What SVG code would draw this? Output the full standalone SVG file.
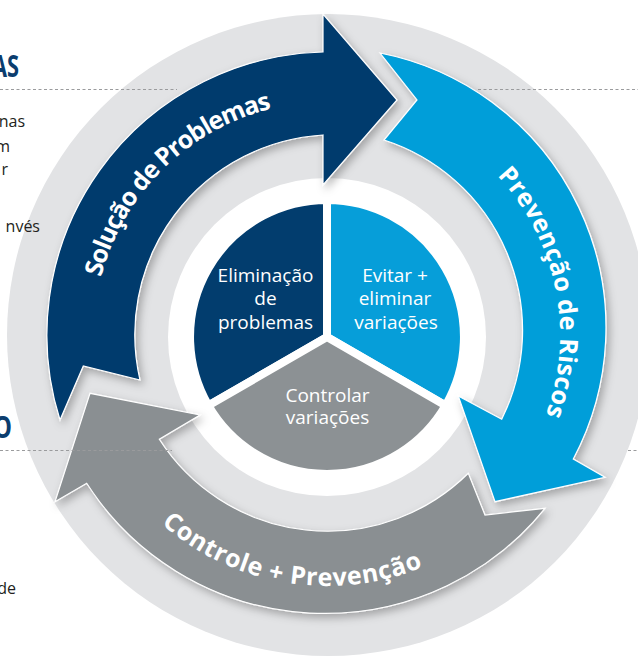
<svg xmlns="http://www.w3.org/2000/svg" width="638" height="657" viewBox="0 0 638 657">
<style>
.body{font-family:"Open Sans","Liberation Sans",sans-serif;font-size:16px;fill:#231f20;text-anchor:end}
.head{font-family:"Open Sans","Liberation Sans",sans-serif;font-size:30px;font-weight:700;fill:#0b3d6e}
.dash{stroke:#9a9b9d;stroke-width:1;stroke-dasharray:3 2.5;fill:none}
.arrow{stroke:#fff;stroke-width:1.2;stroke-linejoin:miter;filter:url(#shadow)}
.atext{font-family:"Open Sans","Liberation Sans",sans-serif;font-size:25px;font-weight:700;fill:#fff}
.ptext{font-family:"Open Sans","Liberation Sans",sans-serif;font-size:19px;fill:#fff;text-anchor:middle}
.sector{stroke:#fff;stroke-width:8;stroke-linejoin:miter}
</style>
<defs>
<filter id="shadow" x="-20%" y="-20%" width="140%" height="140%">
<feDropShadow dx="3" dy="4" stdDeviation="4" flood-color="#000" flood-opacity="0.28"/>
</filter>
<path id="tpNavy" d="M101.6,394.1 A233,233 0 0 1 388.5,110.2"/>
<path id="tpBlue" d="M400.9,114 A233,233 0 0 1 481.4,509.5"/>
<path id="tpGray" d="M92,423.3 A251,251 0 0 0 520.9,494.3"/>
</defs>
<rect width="638" height="657" fill="#fff"/>

<g id="ring">
<circle cx="328" cy="335" r="321" fill="#e2e3e5"/>
<circle cx="327" cy="337" r="159" fill="#fff"/>
</g>

<g id="guides">
<line class="dash" x1="0" y1="89.5" x2="177" y2="89.5"/>
<line class="dash" x1="478" y1="89.5" x2="638" y2="89.5"/>
<line class="dash" x1="628" y1="450.5" x2="638" y2="450.5"/>
</g>

<g id="node-eliminacao">
<path class="sector" fill="#023d6e" d="M327,337 L208.4,405.5 A137,137 0 0 1 327,200 Z"/>
<text class="ptext" x="265.5" y="281.5">Eliminação</text>
<text class="ptext" x="265.5" y="305">de</text>
<text class="ptext" x="265.5" y="328.5">problemas</text>
</g>
<g id="node-evitar">
<path class="sector" fill="#069ed9" d="M327,337 L327,200 A137,137 0 0 1 445.6,405.5 Z"/>
<text class="ptext" x="395" y="281.5">Evitar +</text>
<text class="ptext" x="395" y="305">eliminar</text>
<text class="ptext" x="396" y="328.5">variações</text>
</g>
<g id="node-controlar">
<path class="sector" fill="#8c9194" d="M327,337 L445.6,405.5 A137,137 0 0 1 208.4,405.5 Z"/>
<text class="ptext" x="327.5" y="401.5" fill="#f2f2f2">Controlar</text>
<text class="ptext" x="327.5" y="424" fill="#f2f2f2">variações</text>
</g>

<g id="connectors">
<g id="arrow-controle">
<path class="arrow" fill="#8a8f92" d="M545,508.3 A283,283 0 0 1 86.7,483.3 L55,501.7 L90,393.3 L200,415 L159.3,439.3 A200,200 0 0 0 468.3,473.3 L485,515 Z"/>
<text class="atext"><textPath href="#tpGray" startOffset="50%" text-anchor="middle" textLength="279" lengthAdjust="spacing">Controle + Prevenção</textPath></text>
</g>
<g id="arrow-solucao">
<path class="arrow" fill="#003b6d" d="M60,420 A283,283 0 0 1 323,52 L323,14 L397,100 L323,185 L323,135 A200,200 0 0 0 140,380 L83.3,366 Z"/>
<text class="atext"><textPath href="#tpNavy" startOffset="50%" text-anchor="middle" textLength="252" lengthAdjust="spacing">Solução de Problemas</textPath></text>
</g>
<g id="arrow-prevencao">
<path class="arrow" fill="#069ed9" d="M380,53 A280,280 0 0 1 573.3,459 L605,477.3 L495,501.7 L458.3,396 L501.7,419.3 A200,200 0 0 0 384,140 L417,100 Z"/>
<text class="atext"><textPath href="#tpBlue" startOffset="50%" text-anchor="middle" textLength="257" lengthAdjust="spacing">Prevenção de Riscos</textPath></text>
</g>
</g>

<g id="guides-front">
<line class="dash" x1="0" y1="450.5" x2="172" y2="450.5"/>
</g>

<g id="side-text">
<text class="head" x="-8" y="77" textLength="27" lengthAdjust="spacingAndGlyphs">AS</text>
<text class="head" x="-7" y="438" textLength="19" lengthAdjust="spacingAndGlyphs">O</text>
<text class="body" x="25" y="127">nas</text>
<text class="body" x="10" y="152">m</text>
<text class="body" x="8" y="175">r</text>
<text class="body" x="40" y="232">nvés</text>
<text class="body" x="16" y="594">de</text>
</g>
</svg>
